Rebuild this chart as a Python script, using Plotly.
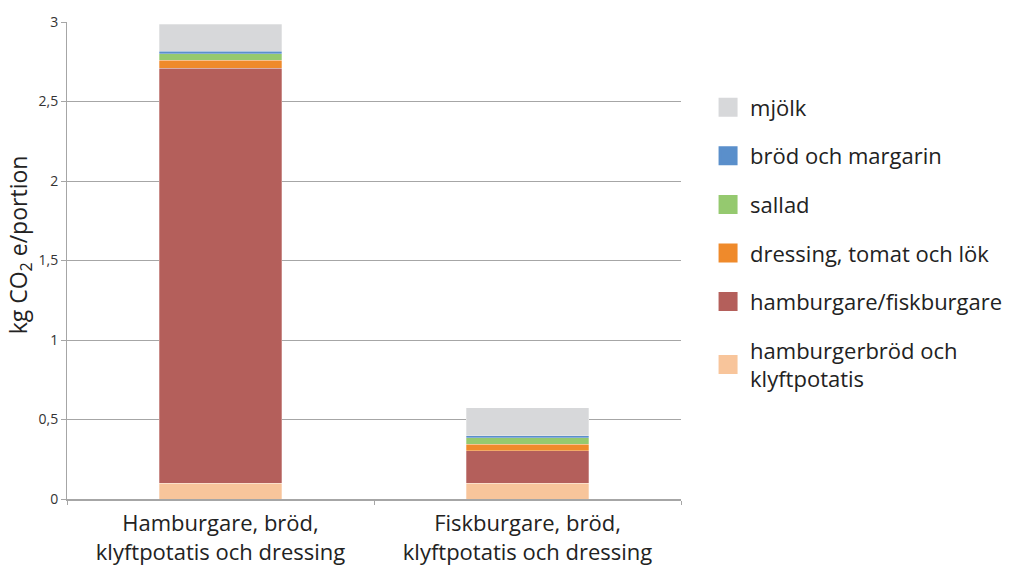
import plotly.graph_objects as go

# Måltider som jämförs
categories = [
    "Hamburgare, bröd,<br>klyftpotatis och dressing",
    "Fiskburgare, bröd,<br>klyftpotatis och dressing",
]

# Klimatpåverkan per komponent (kg CO2e/portion), nedifrån och upp i stapeln
series_names = [
    "hamburgerbröd och<br>klyftpotatis",
    "hamburgare/fiskburgare",
    "dressing, tomat och lök",
    "sallad",
    "bröd och margarin",
    "mjölk",
]
bread_potato = [0.10, 0.10]
burger = [2.61, 0.205]
dressing = [0.05, 0.038]
salad = [0.04, 0.042]
bread_margarine = [0.015, 0.013]
milk = [0.17, 0.176]

series_values = [bread_potato, burger, dressing, salad, bread_margarine, milk]
colors = ["#F8C59B", "#B45F5B", "#EF8A2B", "#95C96F", "#5A8FCB", "#D7D8DA"]

y_ticks = [0, 0.5, 1, 1.5, 2, 2.5, 3]

FONT = "Open Sans"
TEXT = "#222222"

fig = go.Figure()
for i, (name, vals, col) in enumerate(zip(series_names, series_values, colors)):
    fig.add_trace(go.Bar(
        x=categories, y=vals, name=name,
        marker=dict(color=col, line=dict(color="rgba(255,255,255,0.35)", width=0.8)),
        showlegend=False,
    ))
    # legend entry with a larger square swatch; top of the stack listed first
    fig.add_trace(go.Scatter(
        x=[None], y=[None], mode="markers", name=name,
        legendgroup=f"g{i}", legendrank=100 - i,
        marker=dict(symbol="square", size=16, color=col, line=dict(color=col, width=3)),
    ))

# y-axis title, placed by hand so it sits a little above the plot centre
fig.add_annotation(
    text="kg CO<sub>2</sub> e/portion", textangle=-90,
    xref="paper", yref="paper", x=-0.078, y=0.532,
    xanchor="center", yanchor="middle", showarrow=False,
    font=dict(family=FONT, size=23, color=TEXT),
)

fig.update_layout(
    width=1013, height=567,
    barmode="stack", bargap=0.6,
    separators=", ",
    plot_bgcolor="white", paper_bgcolor="white",
    margin=dict(l=67, r=332, t=22, b=68, autoexpand=False),
    font=dict(family=FONT, color=TEXT),
    legend=dict(
        xref="container", x=0.697, xanchor="left", y=0.865, yanchor="top",
        traceorder="grouped", tracegroupgap=17,
        font=dict(family=FONT, size=22, color=TEXT),
        itemsizing="trace", itemwidth=34,
    ),
    xaxis=dict(
        showline=True, linecolor="#A6A6A6", linewidth=1.5,
        ticks="outside", tickson="boundaries", ticklen=4, tickcolor="#A6A6A6",
        tickfont=dict(family=FONT, size=22, color=TEXT), ticklabelstandoff=4,
        showgrid=False, automargin=False,
    ),
    yaxis=dict(
        range=[0, 3], tickvals=y_ticks,
        showline=True, linecolor="#A6A6A6", linewidth=1,
        ticks="outside", ticklen=5, tickcolor="#A6A6A6",
        gridcolor="#A6A6A6", gridwidth=1,
        tickfont=dict(family=FONT, size=14, color="#333333"),
        zeroline=False, automargin=False,
    ),
)

fig.write_html("out.html")
